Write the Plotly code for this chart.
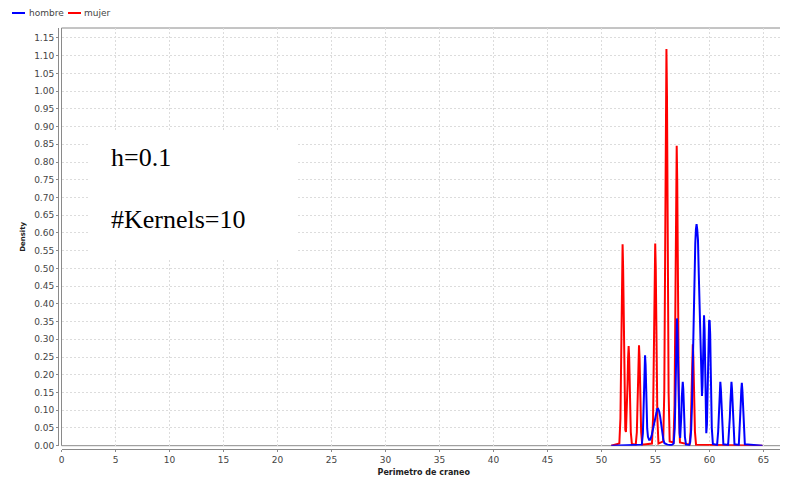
import plotly.graph_objects as go

# ---------------- data ----------------
series_names = ["hombre", "mujer"]
series_colors = ["#0000FF", "#FF0000"]

hombre_x = [50.9, 53.73, 53.83, 53.88, 53.93, 53.98, 54.03, 54.08, 54.13, 54.18, 54.23, 54.30, 54.40, 54.49,
            54.55, 54.65, 54.75, 54.85, 54.95, 55.05, 55.15, 55.24, 55.33, 55.43, 55.53, 55.63, 55.73, 55.83,
            55.95, 56.10, 56.30, 56.50,
            56.68, 56.78, 56.83, 56.88, 56.93, 56.98, 57.03, 57.08, 57.13, 57.18, 57.23, 57.28, 57.33, 57.38,
            57.43, 57.48, 57.52, 57.57, 57.62, 57.67, 57.72, 57.82, 58.12,
            58.21, 58.30, 58.37, 58.45, 58.52, 58.60, 58.68, 58.74, 58.80, 58.86, 58.93, 59.00, 59.08, 59.16,
            59.24, 59.30, 59.35, 59.40, 59.45, 59.49, 59.54, 59.59, 59.64, 59.70, 59.76, 59.81, 59.86, 59.91,
            59.96, 60.01, 60.06, 60.11, 60.16, 60.21, 60.31, 60.70,
            60.80, 60.85, 60.90, 60.95, 61.00, 61.05, 61.10, 61.15, 61.20, 61.28, 61.72,
            61.83, 61.88, 61.93, 61.98, 62.03, 62.08, 62.13, 62.18, 62.23, 62.31, 62.71,
            62.79, 62.84, 62.89, 62.94, 62.99, 63.04, 63.09, 63.14, 63.19, 63.27, 64.9]
hombre_y = [0, 0.003, 0.035, 0.083, 0.155, 0.225, 0.255, 0.228, 0.160, 0.092, 0.048, 0.025, 0.017, 0.017,
            0.020, 0.030, 0.045, 0.064, 0.082, 0.096, 0.103, 0.104, 0.098, 0.082, 0.058, 0.034, 0.016, 0.007,
            0.004, 0.003, 0.002, 0.002,
            0.006, 0.050, 0.118, 0.220, 0.318, 0.359, 0.320, 0.225, 0.130, 0.068, 0.035, 0.022, 0.040, 0.080,
            0.135, 0.170, 0.180, 0.160, 0.112, 0.060, 0.025, 0.003, 0.002,
            0.010, 0.045, 0.109, 0.240, 0.382, 0.500, 0.570, 0.610, 0.625, 0.610, 0.580, 0.490, 0.382, 0.260,
            0.180, 0.140, 0.170, 0.260, 0.340, 0.368, 0.330, 0.230, 0.120, 0.035, 0.060, 0.150, 0.250, 0.320,
            0.352, 0.354, 0.315, 0.220, 0.120, 0.050, 0.005, 0.002,
            0.040, 0.080, 0.120, 0.160, 0.180, 0.160, 0.120, 0.080, 0.040, 0.004, 0.002,
            0.040, 0.080, 0.120, 0.160, 0.180, 0.160, 0.120, 0.080, 0.040, 0.004, 0.002,
            0.040, 0.079, 0.118, 0.157, 0.177, 0.157, 0.118, 0.079, 0.040, 0.004, 0]

mujer_x = [50.9, 51.65, 51.75, 51.8, 51.85, 51.9, 51.95, 52.0, 52.05, 52.1, 52.15, 52.2, 52.26, 52.31,
           52.36, 52.41, 52.46, 52.51, 52.56, 52.61, 52.66, 52.71, 52.81,
           53.17, 53.27, 53.32, 53.37, 53.42, 53.47, 53.52, 53.57, 53.62, 53.67, 53.77,
           54.67, 54.77, 54.82, 54.87, 54.92, 54.97, 55.02, 55.07, 55.12, 55.17, 55.27,
           55.71, 55.81, 55.86, 55.91, 55.96, 56.01, 56.06, 56.11, 56.16, 56.21, 56.31,
           56.66, 56.76, 56.81, 56.86, 56.91, 56.96, 57.01, 57.06, 57.11, 57.16, 57.26,
           58.15, 58.25, 58.30, 58.35, 58.40, 58.45, 58.50, 58.55, 58.60, 58.65, 58.75, 64.9]
mujer_y = [0, 0.006, 0.077, 0.185, 0.345, 0.501, 0.568, 0.501, 0.345, 0.190, 0.085, 0.045, 0.039, 0.070,
           0.120, 0.175, 0.248, 0.281, 0.248, 0.170, 0.091, 0.038, 0.005,
           0.003, 0.038, 0.092, 0.172, 0.250, 0.283, 0.250, 0.172, 0.092, 0.038, 0.003,
           0.006, 0.077, 0.185, 0.346, 0.503, 0.570, 0.503, 0.346, 0.185, 0.077, 0.006,
           0.012, 0.151, 0.364, 0.679, 0.987, 1.119, 0.987, 0.679, 0.364, 0.151, 0.012,
           0.009, 0.114, 0.275, 0.513, 0.746, 0.846, 0.746, 0.513, 0.275, 0.114, 0.009,
           0.003, 0.039, 0.093, 0.173, 0.252, 0.286, 0.252, 0.173, 0.093, 0.039, 0.003, 0]

x_tick_vals = [0, 5, 10, 15, 20, 25, 30, 35, 40, 45, 50, 55, 60, 65]
y_tick_vals = [0.00, 0.05, 0.10, 0.15, 0.20, 0.25, 0.30, 0.35, 0.40, 0.45, 0.50, 0.55,
               0.60, 0.65, 0.70, 0.75, 0.80, 0.85, 0.90, 0.95, 1.00, 1.05, 1.10, 1.15]
x_title = "Perimetro de craneo"
y_title = "Density"
note_lines = ["h=0.1", "#Kernels=10"]

# ---------------- layout geometry (pixels) ----------------
# the page body has an 8px margin, so the figure is sized to fill the
# 788x479 window starting at (8, 8); positions below are in window pixels
OFF = 8
W, H = 788 - OFF, 479 - OFF
ML, MR, MT, MB = 58 - OFF, 2, 28 - OFF, 30
PW, PH = W - ML - MR, H - MT - MB


def pxx(px):
    return (px - OFF - ML) / PW


def pxy(py):
    return (H - MB - (py - OFF)) / PH


fig = go.Figure()
# red drawn first so that blue sits on top (as in the reference)
fig.add_trace(go.Scatter(x=mujer_x, y=mujer_y, mode="lines", name=series_names[1],
                         line=dict(color=series_colors[1], width=2), showlegend=False))
fig.add_trace(go.Scatter(x=hombre_x, y=hombre_y, mode="lines", name=series_names[0],
                         line=dict(color=series_colors[0], width=2), showlegend=False))

axis_grey = "#8a8a8a"
grid_grey = "#dcdcdc"
tick_font = dict(family="DejaVu Sans", size=9, color="#444444")

fig.update_layout(
    template="none",
    width=W, height=H,
    margin=dict(l=ML, r=MR, t=MT, b=MB, pad=0),
    paper_bgcolor="white", plot_bgcolor="white",
    showlegend=False,
    font=dict(family="DejaVu Sans", size=9, color="#444444"),
    xaxis=dict(
        domain=[3.5 / PW, 1], range=[0, 67.08], anchor="free", position=0,
        tickmode="array", tickvals=x_tick_vals, ticktext=[str(v) for v in x_tick_vals],
        ticks="outside", ticklen=2, tickwidth=1, tickcolor=axis_grey,
        showline=True, linecolor=axis_grey, linewidth=1,
        showgrid=True, gridcolor=grid_grey, griddash="2px,2px", gridwidth=1,
        zeroline=False, tickfont=tick_font, automargin=False,
        title=dict(text=x_title, font=dict(family="DejaVu Sans", size=8, color="#222222", weight="bold"),
                   standoff=5),
    ),
    yaxis=dict(
        domain=[3.3 / PH, 1], range=[0, 1.178], anchor="free", position=0,
        tickmode="array", tickvals=y_tick_vals, ticktext=["%.2f" % v for v in y_tick_vals],
        ticks="outside", ticklen=2, tickwidth=1, tickcolor=axis_grey,
        showline=True, linecolor=axis_grey, linewidth=1,
        showgrid=True, gridcolor=grid_grey, griddash="2px,2px", gridwidth=1,
        zeroline=False, tickfont=tick_font, automargin=False,
        title=dict(text=y_title, font=dict(family="DejaVu Sans", size=7, color="#222222", weight="bold"),
                   standoff=6),
    ),
)

shapes = [
    # plot outline
    dict(type="rect", xref="x domain", yref="y domain", x0=0, x1=1, y0=0, y1=1,
         line=dict(color=axis_grey, width=1), layer="below"),
    # white box behind the note text
    dict(type="rect", xref="paper", yref="paper", x0=pxx(90), x1=pxx(297), y0=pxy(258), y1=pxy(130),
         line=dict(width=0), fillcolor="white", layer="above"),
    # legend samples
    dict(type="line", xref="paper", yref="paper", x0=pxx(12), x1=pxx(25), y0=pxy(13), y1=pxy(13),
         line=dict(color=series_colors[0], width=2)),
    dict(type="line", xref="paper", yref="paper", x0=pxx(68), x1=pxx(81), y0=pxy(13), y1=pxy(13),
         line=dict(color=series_colors[1], width=2)),
]
fig.update_layout(shapes=shapes)

note_font = dict(family="Liberation Serif", size=26, color="black")
annotations = [
    dict(text=note_lines[0], xref="paper", yref="paper", x=pxx(109), y=pxy(157),
         xanchor="left", yanchor="middle", showarrow=False, font=note_font),
    dict(text=note_lines[1], xref="paper", yref="paper", x=pxx(109), y=pxy(220),
         xanchor="left", yanchor="middle", showarrow=False, font=note_font),
    dict(text=series_names[0], xref="paper", yref="paper", x=pxx(26.5), y=pxy(13),
         xanchor="left", yanchor="middle", showarrow=False,
         font=dict(family="DejaVu Sans", size=9, color="#444444")),
    dict(text=series_names[1], xref="paper", yref="paper", x=pxx(82), y=pxy(13),
         xanchor="left", yanchor="middle", showarrow=False,
         font=dict(family="DejaVu Sans", size=9, color="#444444")),
]
fig.update_layout(annotations=annotations)

fig.write_html("out.html")
